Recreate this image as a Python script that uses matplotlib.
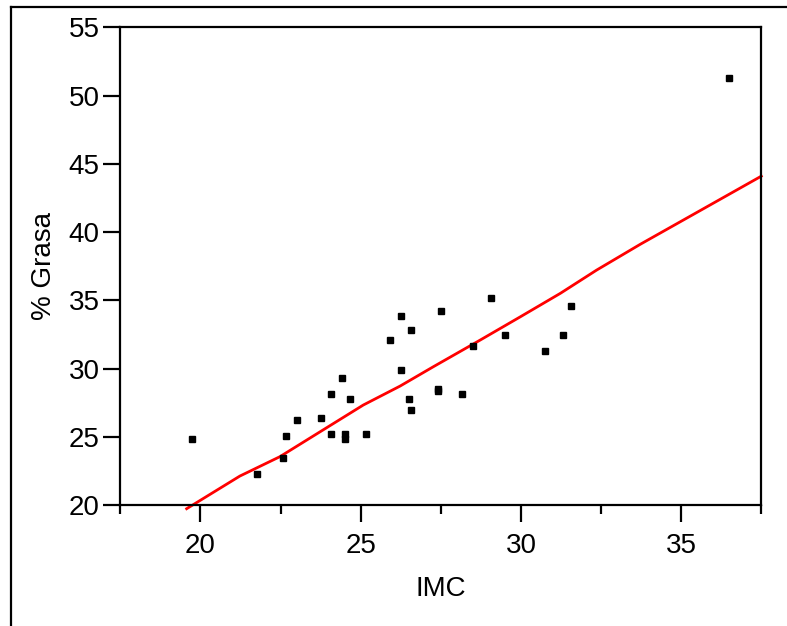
import matplotlib
matplotlib.use("Agg")
import matplotlib.pyplot as plt
from matplotlib.lines import Line2D
from matplotlib.ticker import MultipleLocator

# datos
imc = [19.75, 21.76, 22.59, 22.67, 23.00, 23.75, 24.08, 24.08, 24.42, 24.50,
       24.50, 24.67, 25.17, 25.91, 26.25, 26.58, 26.25, 26.50, 26.58, 27.50,
       27.41, 27.41, 28.16, 28.50, 29.08, 29.49, 30.74, 31.32, 31.57, 36.49]
grasa = [24.85, 22.31, 23.48, 25.05, 26.22, 26.41, 28.17, 25.24, 29.34, 25.24,
         24.85, 27.78, 25.24, 32.08, 33.84, 32.86, 29.93, 27.78, 27.00, 34.20,
         28.54, 28.35, 28.15, 31.66, 35.18, 32.45, 31.27, 32.45, 34.59, 51.30]

# curva ajustada
fit_x = [19.57, 21.23, 22.48, 25.08, 26.23, 27.27, 28.73, 29.98, 31.23, 32.36, 33.73, 37.5]
fit_y = [19.75, 22.14, 23.56, 27.34, 28.73, 30.15, 32.10, 33.80, 35.52, 37.22, 39.12, 44.10]

plt.rcParams['font.family'] = ['Liberation Sans', 'DejaVu Sans']

fig = plt.figure(figsize=(7.87, 6.26), dpi=100)
ax = fig.add_axes([120.3 / 787, 1 - 505.3 / 626, 641 / 787, 478 / 626])

ax.plot(fit_x, fit_y, color='red', lw=2.0, clip_on=False, zorder=2)
ax.plot(imc, grasa, 's', color='black', ms=3.7, zorder=3)

ax.set_xlim(17.5, 37.5)
ax.set_ylim(20, 55)
ax.xaxis.set_major_locator(MultipleLocator(5))
ax.xaxis.set_minor_locator(MultipleLocator(2.5))
ax.yaxis.set_major_locator(MultipleLocator(5))

for s in ax.spines.values():
    s.set_linewidth(1.6)
ax.tick_params(which='major', direction='out', length=12, width=1.6,
               labelsize=20, pad=3)
ax.tick_params(axis='x', which='major', pad=8)
ax.tick_params(which='minor', direction='out', length=6.5, width=1.6)

ax.set_xlabel('IMC', fontsize=20, labelpad=12)
ax.set_ylabel('% Grasa', fontsize=20, labelpad=8)

# marco de la figura
fig.add_artist(Line2D([11 / 787, 11 / 787], [-0.1, 1 - 7 / 626],
                      transform=fig.transFigure, color='black', lw=1.6))
fig.add_artist(Line2D([11 / 787, 1.1], [1 - 7 / 626, 1 - 7 / 626],
                      transform=fig.transFigure, color='black', lw=1.6))

fig.savefig('out.png', dpi=100)
